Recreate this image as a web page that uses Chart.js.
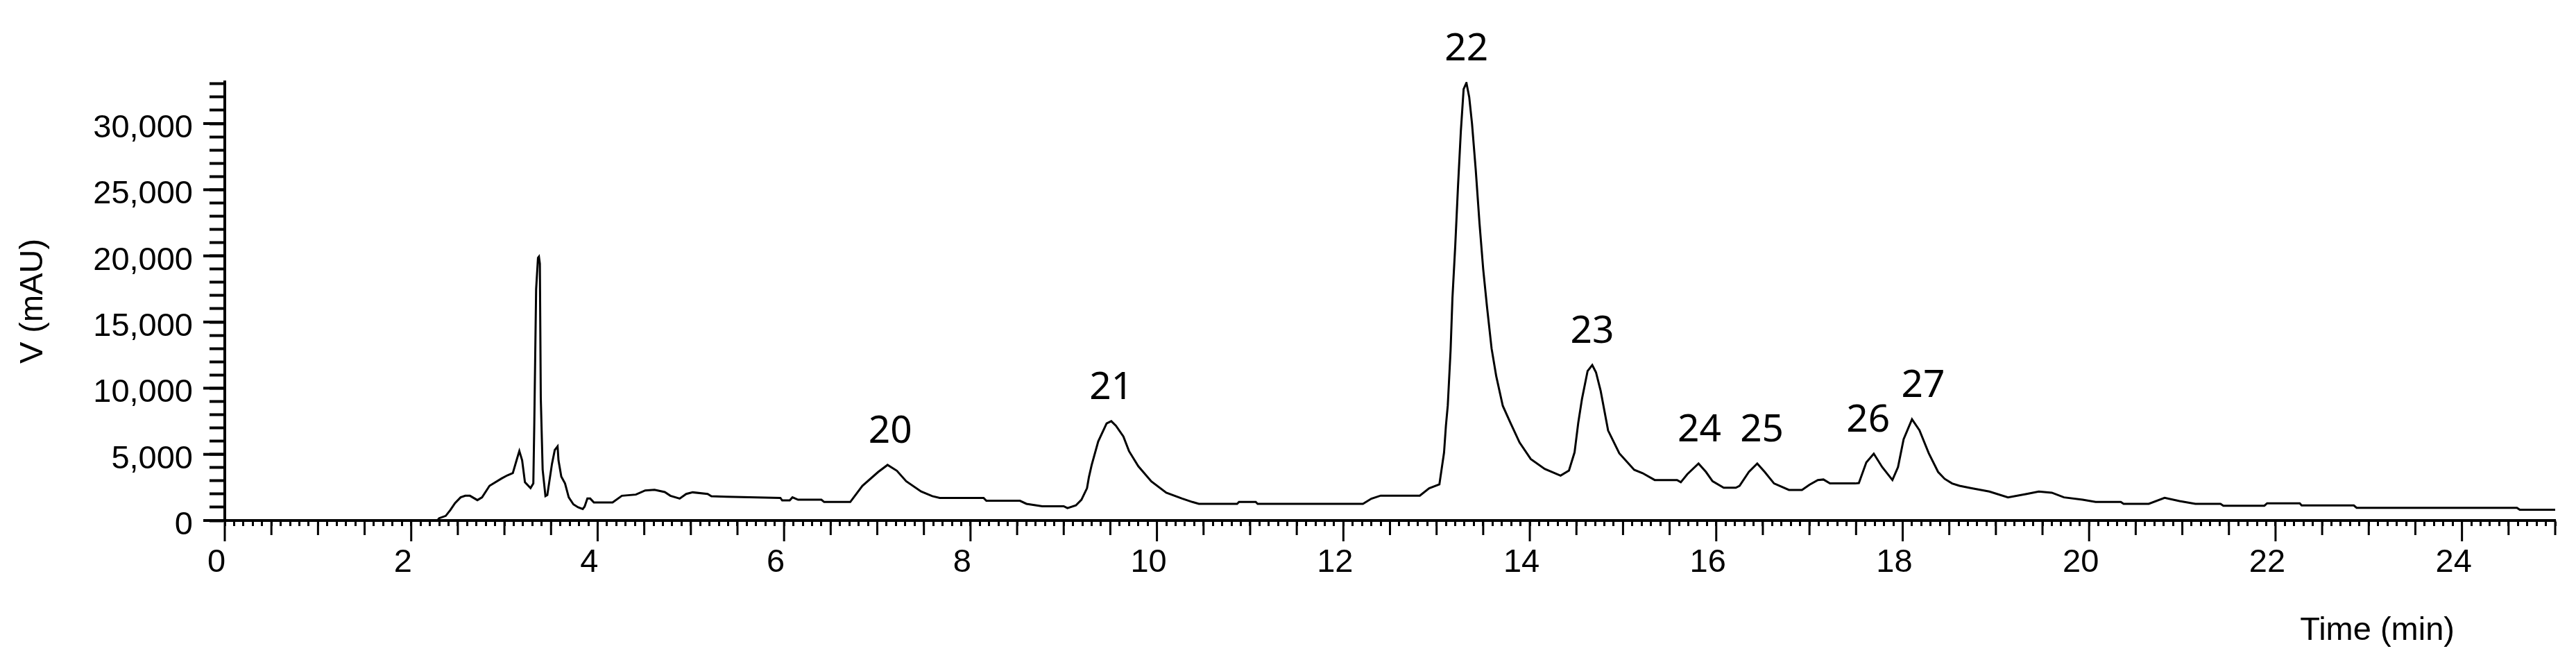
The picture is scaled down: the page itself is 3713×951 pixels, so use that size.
<!DOCTYPE html>
<html>
<head>
<meta charset="utf-8">
<script src="https://cdn.jsdelivr.net/npm/chart.js@4.4.1/dist/chart.umd.min.js"></script>
<style>
  html, body { margin: 0; padding: 0; background: #fff; }
  #wrap { width: 3713px; height: 951px; }
</style>
</head>
<body>
<div id="wrap"><canvas id="chrom" width="3713" height="951"></canvas></div>
<script>
// retention time (min) / detector signal (mAU)
const times = [
  2.28, 2.30, 2.37, 2.42, 2.47, 2.53, 2.58, 2.63, 2.71, 2.76, 2.84, 2.97, 3.03, 3.09, 3.13, 3.16, 3.19, 3.22, 3.28, 3.31,
  3.32, 3.34, 3.36, 3.37, 3.38, 3.39, 3.41, 3.44, 3.46, 3.51, 3.54, 3.57, 3.58, 3.61, 3.65, 3.69, 3.74, 3.79, 3.84, 3.86,
  3.89, 3.92, 3.96, 4.16, 4.26, 4.41, 4.51, 4.61, 4.72, 4.78, 4.88, 4.95, 5.02, 5.18, 5.22, 5.38, 5.96, 5.98, 6.06, 6.09,
  6.15, 6.40, 6.43, 6.71, 6.84, 7.01, 7.11, 7.21, 7.31, 7.47, 7.59, 7.67, 8.14, 8.17, 8.53, 8.60, 8.77, 9.00, 9.04, 9.13,
  9.19, 9.25, 9.27, 9.30, 9.37, 9.46, 9.51, 9.56, 9.64, 9.70, 9.80, 9.94, 10.10, 10.27, 10.38, 10.45, 10.86, 10.88, 11.06, 11.08,
  12.21, 12.30, 12.40, 12.82, 12.92, 13.03, 13.08, 13.10, 13.12, 13.15, 13.17, 13.20, 13.23, 13.26, 13.29, 13.32, 13.35, 13.38, 13.42, 13.46,
  13.50, 13.54, 13.59, 13.64, 13.71, 13.79, 13.89, 14.01, 14.16, 14.33, 14.42, 14.48, 14.52, 14.56, 14.62, 14.67, 14.71, 14.76,
  14.84, 14.96, 15.12, 15.21, 15.34, 15.58, 15.62, 15.69, 15.81, 15.89, 15.96, 16.08, 16.21, 16.25, 16.35, 16.44, 16.52, 16.62, 16.78, 16.92,
  17.00, 17.09, 17.15, 17.22, 17.49, 17.53, 17.61, 17.69, 17.78, 17.89, 17.95, 18.01, 18.10, 18.18, 18.28, 18.38, 18.45, 18.53, 18.61, 18.73,
  18.93, 19.13, 19.33, 19.46, 19.60, 19.73, 19.93, 20.07, 20.34, 20.37, 20.64, 20.81, 20.97, 21.14, 21.41, 21.44, 21.88, 21.91, 22.26, 22.28,
  22.84, 22.87, 24.59, 24.62, 25.00
];
const signal = [
  0, 175, 350, 790, 1310, 1750, 1870, 1870, 1540, 1750, 2620, 3180, 3410, 3580, 4550, 5250, 4550, 2890, 2450, 2800,
  7170, 17490, 19850, 19940, 19410, 9270, 3850, 1840, 1920, 4280, 5330, 5600, 4550, 3320, 2800, 1750, 1220, 1000, 870, 1050,
  1660, 1660, 1360, 1360, 1870, 1960, 2270, 2320, 2150, 1870, 1660, 2010, 2130, 2010, 1840, 1800, 1710, 1520, 1520, 1750,
  1570, 1570, 1400, 1400, 2620, 3670, 4200, 3760, 2970, 2190, 1840, 1710, 1710, 1490, 1490, 1260, 1080, 1080, 940, 1140,
  1570, 2450, 3270, 4200, 5980, 7340, 7510, 7160, 6350, 5250, 4100, 2950, 2100, 1660, 1400, 1260, 1260, 1400, 1400, 1260,
  1260, 1650, 1880, 1880, 2440, 2730, 5140, 7160, 8700, 12850, 16820, 20750, 25300, 29400, 32600, 33080, 32000, 30000, 26500, 22500,
  19000, 16200, 13000, 10900, 8670, 7410, 5900, 4650, 3900, 3390, 3780, 5150, 7400, 9200, 11300, 11750, 11200, 9800,
  6800, 5080, 3830, 3580, 3060, 3060, 2890, 3500, 4300, 3670, 2970, 2480, 2480, 2620, 3670, 4300, 3670, 2800, 2310, 2310,
  2700, 3060, 3100, 2800, 2800, 2830, 4390, 5050, 4040, 3060, 4040, 6140, 7650, 6820, 5080, 3670, 3150, 2800, 2620, 2450,
  2190, 1750, 2010, 2190, 2100, 1750, 1570, 1400, 1400, 1260, 1260, 1710, 1470, 1260, 1260, 1120, 1120, 1300, 1300, 1140,
  1140, 960, 960, 810, 810
];

// peak numbers: label centre time and apex height
const peakNames = ["20", "21", "22", "23", "24", "25", "26", "27"];
const peakTimes = [7.14, 9.51, 13.32, 14.67, 15.82, 16.49, 17.63, 18.22];
const peakHeights = [4200, 7510, 33080, 11750, 4300, 4300, 5050, 7650];

// labelled ticks
const xTickLabels = [0, 2, 4, 6, 8, 10, 12, 14, 16, 18, 20, 22, 24];
const yTickLabels = [0, 5000, 10000, 15000, 20000, 25000, 30000];

const axisFont = "'Liberation Sans', Arial, sans-serif";

function isOn(v, list) {
  return list.some(function (t) { return Math.abs(t - v) < 1e-6; });
}

// longer tick marks for half minutes / labelled ticks, and the peak numbers
const extras = {
  id: "extras",
  afterDraw(chart) {
    const ctx = chart.ctx;
    const xs = chart.scales.x;
    const ys = chart.scales.y;
    ctx.save();
    ctx.strokeStyle = "#000";
    ctx.lineCap = "butt";

    ctx.lineWidth = 3;
    xs.ticks.forEach(function (t) {
      const half = Math.abs(t.value * 2 - Math.round(t.value * 2)) < 1e-6;
      if (!half) return;
      const len = isOn(t.value, xTickLabels) ? 30 : 21;
      const px = xs.getPixelForValue(t.value);
      ctx.beginPath();
      ctx.moveTo(px, xs.top);
      ctx.lineTo(px, xs.top + len);
      ctx.stroke();
    });

    ctx.lineWidth = 4;
    ys.ticks.forEach(function (t) {
      if (!isOn(t.value, yTickLabels)) return;
      const py = ys.getPixelForValue(t.value);
      ctx.beginPath();
      ctx.moveTo(ys.right, py);
      ctx.lineTo(ys.right - 31, py);
      ctx.stroke();
    });

    ctx.fillStyle = "#000";
    ctx.font = "55px 'Noto Sans', sans-serif";
    ctx.textAlign = "center";
    ctx.textBaseline = "alphabetic";
    peakNames.forEach(function (name, i) {
      const px = xs.getPixelForValue(peakTimes[i]);
      const py = ys.getPixelForValue(peakHeights[i]) - 32;
      ctx.fillText(name, px, py);
    });

    ctx.font = "47px " + axisFont;
    ctx.textAlign = "right";
    ctx.fillText("Time (min)", xs.right - 145, 922);
    ctx.restore();
  }
};

const points = times.map(function (t, i) { return { x: t, y: signal[i] }; });

new Chart(document.getElementById("chrom"), {
  type: "line",
  data: {
    datasets: [{
      data: points,
      borderColor: "#000",
      borderWidth: 3,
      pointRadius: 0,
      tension: 0,
      fill: false
    }]
  },
  options: {
    responsive: false,
    animation: false,
    layout: { padding: { top: 118, right: 30, left: 0, bottom: 0 } },
    plugins: { legend: { display: false }, tooltip: { enabled: false } },
    scales: {
      x: {
        type: "linear",
        position: "bottom",
        min: 0,
        max: 25,
        grid: { drawOnChartArea: false, tickLength: 8, tickWidth: 3, tickColor: "#000" },
        border: { display: true, color: "#000", width: 4 },
        ticks: {
          stepSize: 0.1,
          autoSkip: false,
          includeBounds: false,
          maxRotation: 0,
          minRotation: 0,
          padding: 25,
          labelOffset: -12,
          color: "#000",
          font: { family: axisFont, size: 47 },
          callback: function (v) { return isOn(v, xTickLabels) ? String(Math.round(v)) : ""; }
        },
        afterFit: function (s) { s.height = 201; }
      },
      y: {
        type: "linear",
        min: 0,
        max: 33150,
        grid: { drawOnChartArea: false, tickLength: 22, tickWidth: 4, tickColor: "#000" },
        border: { display: true, color: "#000", width: 4 },
        ticks: {
          autoSkip: false,
          padding: 24,
          labelOffset: 7,
          color: "#000",
          font: { family: axisFont, size: 47 },
          callback: function (v) { return isOn(v, yTickLabels) ? v.toLocaleString("en-US") : ""; }
        },
        // minor ticks every 1,000 up to 33,000 (axis runs slightly past the last one)
        afterBuildTicks: function (s) {
          const t = [];
          for (let v = 0; v <= 33000; v += 1000) t.push({ value: v });
          s.ticks = t;
        },
        title: {
          display: true,
          text: "V (mAU)",
          color: "#000",
          font: { family: axisFont, size: 47 },
          padding: { top: 20, bottom: 0 }
        },
        afterFit: function (s) { s.width = 324; }
      }
    }
  },
  plugins: [extras]
});
</script>
</body>
</html>
